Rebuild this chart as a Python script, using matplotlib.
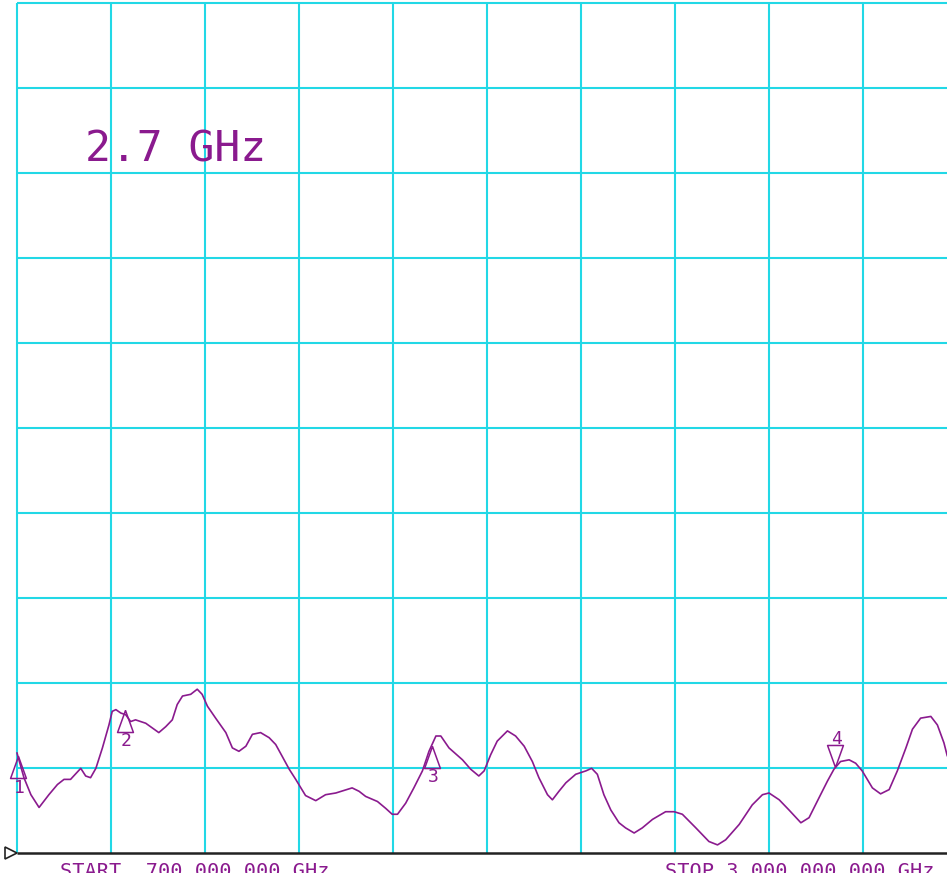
import numpy as np
import matplotlib
matplotlib.use('Agg')
import matplotlib.pyplot as plt
from matplotlib.transforms import ScaledTranslation

# sweep settings (GHz) and screen divisions
f_start, f_stop = 0.7, 3.0
n_div = 10

# trace: frequency [GHz] / level [divisions above bottom]
freq = [0.700, 0.717, 0.734, 0.754, 0.778, 0.799, 0.815, 0.831, 0.856, 0.868,
        0.880, 0.893, 0.909, 0.925, 0.933, 0.942, 0.954, 0.966, 0.978, 0.990,
        1.015, 1.047, 1.064, 1.080, 1.092, 1.105, 1.125, 1.141, 1.153, 1.166,
        1.186, 1.211, 1.227, 1.243, 1.260, 1.276, 1.296, 1.317, 1.333, 1.349,
        1.366, 1.382, 1.406, 1.431, 1.455, 1.480, 1.520, 1.537, 1.553, 1.582,
        1.602, 1.618, 1.631, 1.651, 1.671, 1.692, 1.708, 1.725, 1.737, 1.757,
        1.790, 1.810, 1.830, 1.843, 1.859, 1.875, 1.900, 1.920, 1.941, 1.961,
        1.977, 1.998, 2.010, 2.026, 2.043, 2.067, 2.092, 2.106, 2.120, 2.136,
        2.153, 2.173, 2.189, 2.210, 2.230, 2.255, 2.287, 2.308, 2.328, 2.361,
        2.393, 2.414, 2.434, 2.467, 2.499, 2.524, 2.540, 2.565, 2.589, 2.618,
        2.638, 2.662, 2.683, 2.699, 2.715, 2.736, 2.752, 2.768, 2.793, 2.813,
        2.834, 2.854, 2.875, 2.891, 2.911, 2.936, 2.952, 2.968, 2.976]
level = [1.18, 0.89, 0.69, 0.54, 0.69, 0.81, 0.87, 0.87, 1.00, 0.91,
         0.89, 1.00, 1.24, 1.51, 1.67, 1.69, 1.65, 1.63, 1.55, 1.57,
         1.53, 1.42, 1.49, 1.57, 1.75, 1.85, 1.87, 1.93, 1.87, 1.73,
         1.59, 1.42, 1.24, 1.20, 1.26, 1.40, 1.42, 1.36, 1.28, 1.14,
         0.99, 0.87, 0.68, 0.62, 0.69, 0.71, 0.77, 0.73, 0.67, 0.61,
         0.53, 0.46, 0.46, 0.59, 0.77, 0.97, 1.20, 1.38, 1.38, 1.24,
         1.10, 0.99, 0.91, 0.97, 1.16, 1.32, 1.44, 1.38, 1.26, 1.08,
         0.89, 0.69, 0.63, 0.73, 0.83, 0.93, 0.97, 1.00, 0.93, 0.69,
         0.51, 0.36, 0.30, 0.24, 0.30, 0.40, 0.49, 0.49, 0.46, 0.30,
         0.14, 0.10, 0.16, 0.34, 0.57, 0.69, 0.71, 0.63, 0.51, 0.36,
         0.42, 0.65, 0.85, 0.99, 1.08, 1.10, 1.06, 0.97, 0.77, 0.70,
         0.75, 0.97, 1.24, 1.46, 1.59, 1.61, 1.51, 1.30, 1.15]

# markers: number, frequency, level, pointing down?
mk_num = ['1', '2', '3', '4']
mk_freq = [0.702, 0.964, 1.715, 2.702]
mk_level = [1.14, 1.69, 1.26, 1.02]
mk_down = [False, False, False, True]

purple = '#8A1A8E'
cyan = '#22D8E6'
mono = 'DejaVu Sans Mono'

W, H = 947, 882
fig = plt.figure(figsize=(W / 100, H / 100), dpi=100)
ax = fig.add_axes([0, 0, 1, 1])
ax.set_axis_off()

# pixel mapping of the screen: grid left at x=17, 94 px/div; bottom 853.4, 85.07 px/div
px_div_x, px_div_y = 94.0, 85.07
ghz_per_div = (f_stop - f_start) / n_div
ax.set_xlim(f_start - 17 / px_div_x * ghz_per_div,
            f_start + (W - 17) / px_div_x * ghz_per_div)
ax.set_ylim(-(H - 853.4) / px_div_y, n_div + 2.7 / px_div_y)

# graticule
gx = np.linspace(f_start, f_stop, n_div + 1)
gy = np.arange(1, n_div + 1)
ax.vlines(gx, 0, n_div, color=cyan, lw=1.5, zorder=1)
ax.hlines(gy, f_start, f_stop + 0.05, color=cyan, lw=1.5, zorder=1)
ax.hlines(0, f_start, f_stop + 0.05, color='#222222', lw=1.8, zorder=2)
ax.plot([f_start], [0], marker='>', ms=8.5, mfc='none', mec='#222222', mew=1.2,
        clip_on=False, zorder=3,
        transform=ax.transData + ScaledTranslation(-6 / 100, 0, fig.dpi_scale_trans))

# trace
ax.plot(freq, level, color=purple, lw=1.2, zorder=4)

# marker symbols with apex on the trace
up_tri = [(0, 0), (-0.36, -1), (0.36, -1), (0, 0)]
dn_tri = [(0, 0), (-0.36, 1), (0.36, 1), (0, 0)]
for num, f, lv, down in zip(mk_num, mk_freq, mk_level, mk_down):
    ax.plot([f], [lv], marker=dn_tri if down else up_tri, ms=31.7, mfc='none',
            mec=purple, mew=1.1, zorder=5)
    dy = 20 if down else -22.5
    ax.annotate(num, (f, lv), xytext=(1, dy), textcoords='offset points',
                ha='center', va='center', fontsize=13, family=mono, color=purple,
                zorder=5)

# screen annotations
fig.text(85 / W, 1 - 161 / H, '2.7 GHz', fontsize=31, family=mono, color=purple,
         va='baseline', ha='left')
fig.text(60 / W, 1 - 877 / H, 'START .700 000 000 GHz', fontsize=14.6, family=mono,
         color=purple, va='baseline', ha='left')
fig.text(665 / W, 1 - 877 / H, 'STOP 3.000 000 000 GHz', fontsize=14.6, family=mono,
         color=purple, va='baseline', ha='left')

# blank strip at the very bottom of the screen capture
fig.patches.append(plt.Rectangle((0, 0), 1, 9 / H, transform=fig.transFigure,
                                 facecolor='white', edgecolor='none', zorder=20))

fig.savefig('out.png', dpi=100)
